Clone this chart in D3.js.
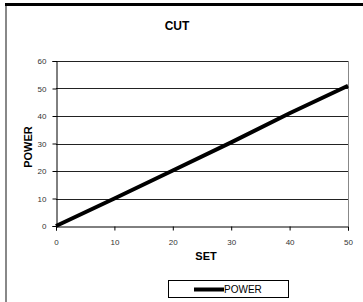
<!DOCTYPE html>
<html>
<head>
<meta charset="utf-8">
<script src="https://cdn.jsdelivr.net/npm/d3@7"></script>
<style>
  body { margin: 0; background: #fff; }
  svg { display: block; font-family: Arial, "Liberation Sans", sans-serif; }
</style>
</head>
<body>
<svg width="363" height="302"></svg>
<script>
let setVals = [0, 10, 20, 30, 40, 50];
let powerVals = [0, 10, 20.2, 30.4, 41, 51];
let xTicks = [0, 10, 20, 30, 40, 50];
let yTicks = [0, 10, 20, 30, 40, 50, 60];

let svg = d3.select("svg"),
    margin = {top: 61, right: 15, bottom: 76, left: 56},
    width = 363 - margin.left - margin.right,
    height = 302 - margin.top - margin.bottom,
    g = svg.append("g").attr("transform", "translate(" + margin.left + "," + margin.top + ")");

// frame bits from the spreadsheet page
svg.append("rect").attr("x", 5).attr("y", 3).attr("width", 358).attr("height", 3).attr("fill", "#000");
svg.append("rect").attr("x", 5).attr("y", 6).attr("width", 2).attr("height", 296).attr("fill", "#888");

let x = d3.scaleLinear().domain([0, 50]).range([0, width]);
let y = d3.scaleLinear().domain([0, 60]).range([height, 0]);

// gridlines
g.append("g")
  .selectAll("line")
  .data(yTicks.slice(1))
  .enter().append("line")
    .attr("x1", 0)
    .attr("x2", width)
    .attr("y1", d => Math.round(y(d)) + 0.5)
    .attr("y2", d => Math.round(y(d)) + 0.5)
    .attr("stroke", "#222")
    .attr("stroke-width", 1);

// right border
g.append("line")
  .attr("x1", width + 0.5).attr("x2", width + 0.5)
  .attr("y1", y(60)).attr("y2", height)
  .attr("stroke", "#888");

let xAxis = g.append("g")
    .attr("transform", "translate(0," + (Math.round(height) + 0.5) + ")")
    .call(d3.axisBottom(x).tickValues(xTicks).tickSize(4).tickPadding(9));

let yAxis = g.append("g")
    .attr("transform", "translate(0.5,0)")
    .call(d3.axisLeft(y).tickValues(yTicks).tickSize(4).tickPadding(6));

[xAxis, yAxis].forEach(a => {
  a.select(".domain").attr("stroke", "#000");
  a.selectAll(".tick line").attr("stroke", "#000");
  a.selectAll("text").attr("font-size", 8).attr("fill", "#333")
    .attr("font-family", "Arial, 'Liberation Sans', sans-serif");
});

// the line
g.append("path")
  .datum(setVals.map((d, i) => [d, powerVals[i]]))
  .attr("fill", "none")
  .attr("stroke", "#000")
  .attr("stroke-width", 4)
  .attr("d", d3.line().x(d => x(d[0])).y(d => y(d[1])));

// titles
svg.append("text")
  .attr("x", 177).attr("y", 30)
  .attr("text-anchor", "middle")
  .attr("font-size", 12).attr("font-weight", "bold")
  .text("CUT");

svg.append("text")
  .attr("x", 206).attr("y", 260)
  .attr("text-anchor", "middle")
  .attr("font-size", 11).attr("font-weight", "bold")
  .text("SET");

svg.append("text")
  .attr("transform", "translate(32,147) rotate(-90)")
  .attr("text-anchor", "middle")
  .attr("font-size", 11).attr("font-weight", "bold")
  .text("POWER");

// legend
let legend = svg.append("g");
legend.append("rect")
  .attr("x", 168.5).attr("y", 280.5)
  .attr("width", 120).attr("height", 17)
  .attr("fill", "#fff").attr("stroke", "#000");
legend.append("line")
  .attr("x1", 194).attr("x2", 224)
  .attr("y1", 289.5).attr("y2", 289.5)
  .attr("stroke", "#000").attr("stroke-width", 4);
legend.append("text")
  .attr("x", 224).attr("y", 293)
  .attr("font-size", 10)
  .text("POWER");
</script>
</body>
</html>
